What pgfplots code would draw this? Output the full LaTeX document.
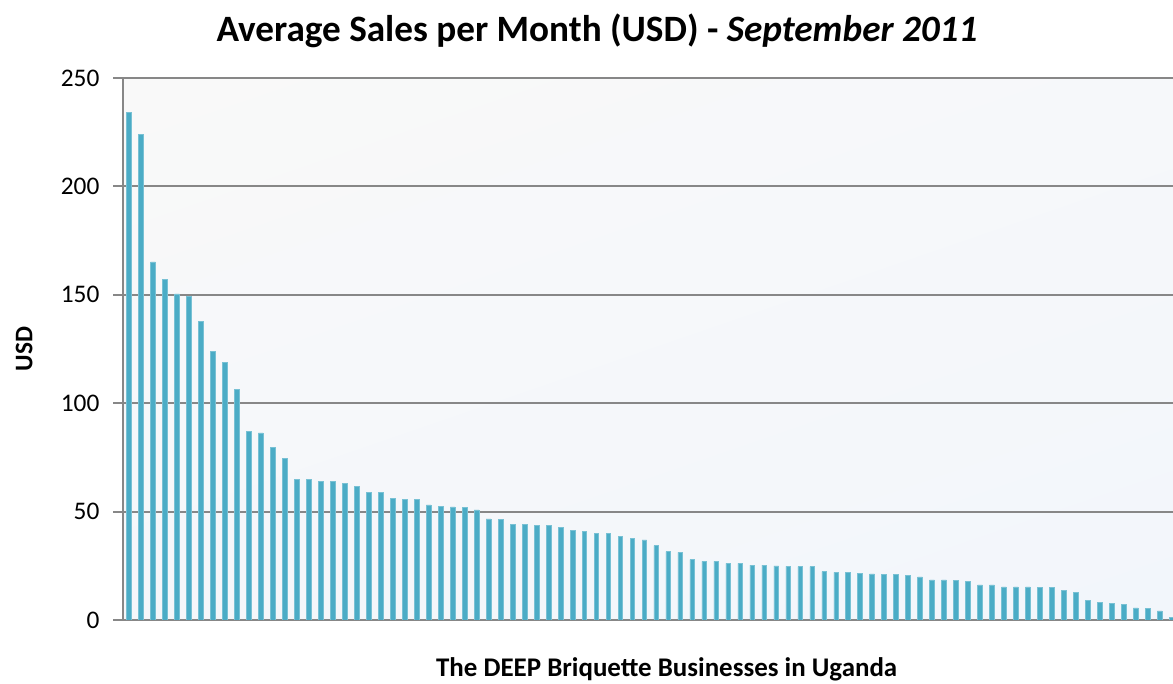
\documentclass[border=0pt]{standalone}
\usepackage{fontspec}
\setmainfont{Carlito}
\usepackage{pgfplots}
\pgfplotsset{compat=1.18}
\usetikzlibrary{shadings}
\definecolor{barc}{HTML}{4BACC6}
\definecolor{gridc}{HTML}{878787}
\definecolor{bgA}{HTML}{F9F9F9}
\definecolor{bgB}{HTML}{F2F6FB}
\begin{document}
\begin{tikzpicture}
\useasboundingbox (0,0) rectangle (879.75pt,513pt);
\begin{axis}[
  at={(92.25pt,48pt)}, anchor=south west,
  scale only axis, width=787.5pt, height=406.5pt,
  xmin=-0.5, xmax=87.11, ymin=0, ymax=250,
  ytick={0,50,100,150,200,250}, xtick=\empty,
  axis lines*=left,
  axis line style={gridc, line width=1.4pt},
  ymajorgrids, grid style={gridc, line width=1.4pt},
  tick align=outside, major tick length=7.5pt,
  tick style={gridc, line width=1.4pt},
  /pgf/number format/assume math mode=true,
  yticklabel style={font=\fontsize{19}{19}\selectfont, inner sep=0pt, xshift=-10pt},
  axis background/.style={shade, upper left=bgA, upper right=bgA!60!bgB, lower left=bgA!40!bgB, lower right=bgB},
  clip=true,
]
\addplot[ybar, bar width=0.39, fill=barc, draw=barc!75!white, line width=0.4pt] coordinates {
(0,234.1) (1,224.1) (2,165.2) (3,157.0) (4,150.4) (5,149.2) (6,137.8) (7,123.8)
(8,118.8) (9,106.4) (10,86.9) (11,86.3) (12,79.5) (13,74.7) (14,64.9) (15,64.9)
(16,63.9) (17,63.9) (18,63.1) (19,61.6) (20,59.0) (21,59.0) (22,56.2) (23,55.8)
(24,55.7) (25,53.1) (26,52.5) (27,52.2) (28,51.9) (29,50.8) (30,46.6) (31,46.3)
(32,44.1) (33,44.1) (34,43.5) (35,43.5) (36,42.7) (37,41.2) (38,40.9) (39,39.8)
(40,39.8) (41,38.4) (42,37.5) (43,37.0) (44,34.3) (45,31.5) (46,31.2) (47,27.9)
(48,27.0) (49,27.0) (50,26.1) (51,26.1) (52,25.3) (53,25.3) (54,25.0) (55,24.7)
(56,24.6) (57,24.6) (58,22.3) (59,22.0) (60,22.0) (61,21.5) (62,21.3) (63,21.0)
(64,21.0) (65,20.6) (66,19.9) (67,18.5) (68,18.5) (69,18.2) (70,17.9) (71,16.2)
(72,16.2) (73,15.3) (74,15.3) (75,15.3) (76,15.0) (77,15.0) (78,13.6) (79,12.6)
(80,9.0) (81,8.1) (82,7.5) (83,7.2) (84,5.6) (85,5.5) (86,4.2) (87,1.2)
};
\end{axis}
\node[anchor=base, inner sep=0pt, font=\fontsize{27.9}{27.9}\selectfont\bfseries] at (447.75pt,482pt) {Average Sales per Month (USD) - \textit{September 2011}};
\node[anchor=base, inner sep=0pt, font=\fontsize{20.2}{20.2}\selectfont\bfseries] at (500pt,5.5pt) {The DEEP Briquette Businesses in Uganda};
\node[anchor=base, rotate=90, inner sep=0pt, font=\fontsize{19}{19}\selectfont\bfseries] at (24.2pt,251.3pt) {USD};
\end{tikzpicture}
\end{document}
